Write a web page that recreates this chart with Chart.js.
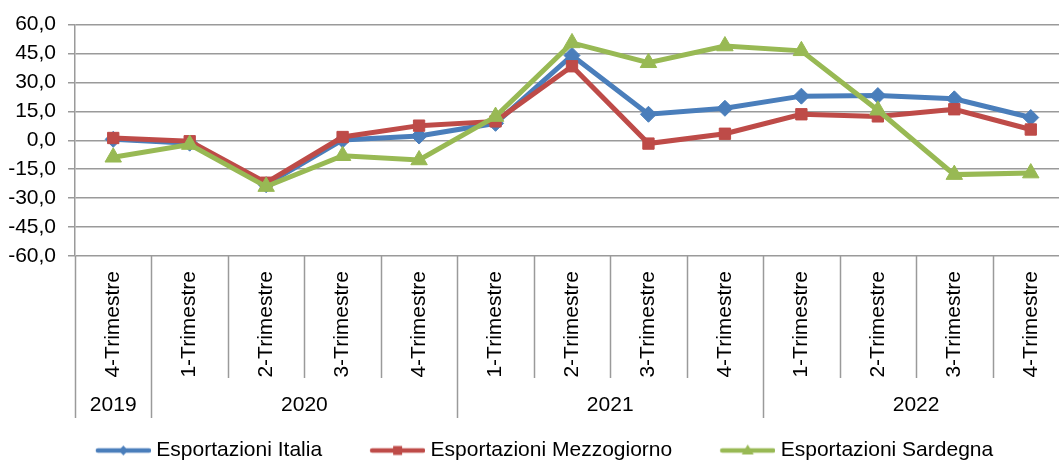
<!DOCTYPE html>
<html>
<head>
<meta charset="utf-8">
<script src="https://cdn.jsdelivr.net/npm/chart.js@4.4.1/dist/chart.umd.min.js"></script>
<style>
  html, body { margin: 0; padding: 0; overflow: hidden; background: #fff; width: 1059px; height: 463px; }
  #wrap { position: absolute; left: 0; top: 0; width: 1080px; height: 471px; }
</style>
</head>
<body>
<div id="wrap"><canvas id="c" width="1080" height="471" style="width:1080px;height:471px"></canvas></div>
<script>
const categories = ['4-Trimestre','1-Trimestre','2-Trimestre','3-Trimestre','4-Trimestre','1-Trimestre','2-Trimestre','3-Trimestre','4-Trimestre','1-Trimestre','2-Trimestre','3-Trimestre','4-Trimestre'];
const years = ['2019','2020','2021','2022'];
const yearSpans = [1, 4, 4, 4];
const seriesNames = ['Esportazioni Italia','Esportazioni Mezzogiorno','Esportazioni Sardegna'];
const italia      = [0.5, -1.5, -23.0, 0.2, 2.2, 8.8, 44.0, 13.5, 16.6, 22.9, 23.2, 21.5, 11.8];
const mezzogiorno = [1.2, -0.5, -22.0, 1.7, 7.6, 9.8, 38.4, -1.7, 3.4, 13.5, 12.4, 16.1, 5.6];
const sardegna    = [-8.8, -2.2, -24.0, -8.0, -10.2, 12.3, 50.5, 40.2, 48.9, 46.4, 15.6, -17.8, -17.0];
const yMin = -60, yMax = 60, yStep = 15;

const FONT = "'Liberation Sans', Arial, sans-serif";
const GRID = '#9a9a9a';
const colors = ['#4A7EBB', '#BE4B48', '#98B954'];
const styles = ['rectRot', 'rect', 'triangle'];
const radii = [8, 8, 9.5];

function legendImage(color, style) {
  const c = document.createElement('canvas');
  c.width = 80; c.height = 16;
  const g = c.getContext('2d');
  g.strokeStyle = color; g.lineWidth = 4.5; g.lineCap = 'round';
  g.beginPath(); g.moveTo(27, 8); g.lineTo(78, 8); g.stroke();
  g.fillStyle = color;
  const cx = 52.5, cy = 8;
  g.beginPath();
  if (style === 'rectRot') { g.moveTo(cx, cy-5); g.lineTo(cx+4.5, cy); g.lineTo(cx, cy+5); g.lineTo(cx-4.5, cy); }
  else if (style === 'rect') { g.rect(cx-4.5, cy-4.5, 9, 9); }
  else { g.moveTo(cx, cy-6); g.lineTo(cx+6, cy+4); g.lineTo(cx-6, cy+4); }
  g.closePath(); g.fill();
  return c;
}

const seriesData = [italia, mezzogiorno, sardegna];
const datasets = seriesData.map((d, i) => ({
  label: seriesNames[i],
  data: d,
  borderColor: colors[i],
  backgroundColor: colors[i],
  borderWidth: 5,
  pointStyle: styles[i],
  pointRadius: radii[i],
  pointHoverRadius: radii[i],
  pointBackgroundColor: colors[i],
  pointBorderColor: colors[i],
  pointBorderWidth: 1,
  tension: 0,
  order: 3 - i
}));

const legendImgs = colors.map((c, i) => legendImage(c, styles[i]));

const yearPlugin = {
  id: 'yearGroups',
  afterDraw(chart) {
    const x = chart.scales.x, ca = chart.chartArea, ctx = chart.ctx;
    const step = x.getPixelForValue(1) - x.getPixelForValue(0);
    const bounds = [0];
    yearSpans.forEach(s => bounds.push(bounds[bounds.length-1] + s));
    ctx.save();
    ctx.strokeStyle = GRID; ctx.lineWidth = 1.5;
    for (let i = 0; i <= categories.length; i++) {
      const bx = Math.round(x.getPixelForValue(i) - step/2) + 0.5;
      const long = bounds.includes(i);
      ctx.beginPath();
      ctx.moveTo(bx, ca.bottom);
      ctx.lineTo(bx, ca.bottom + (long ? 162 : 122));
      ctx.stroke();
    }
    ctx.fillStyle = '#000';
    ctx.font = "21px " + FONT;
    ctx.textAlign = 'center'; ctx.textBaseline = 'middle';
    years.forEach((yr, k) => {
      const a = x.getPixelForValue(bounds[k]) - step/2;
      const b = x.getPixelForValue(bounds[k+1]) - step/2;
      ctx.fillText(yr, (a+b)/2, ca.bottom + 149);
    });
    ctx.restore();
  }
};

new Chart(document.getElementById('c'), {
  type: 'line',
  data: { labels: categories, datasets },
  plugins: [yearPlugin],
  options: {
    responsive: false,
    animation: false,
    devicePixelRatio: 1,
    layout: { padding: { top: 20, right: 11, left: 0, bottom: 0 } },
    plugins: {
      tooltip: { enabled: false },
      legend: {
        position: 'bottom',
        labels: {
          usePointStyle: true,
          pointStyleWidth: 70,
          padding: 28,
          color: '#000',
          font: { family: FONT, size: 21 },
          generateLabels(chart) {
            return chart.data.datasets.map((ds, i) => ({
              text: ds.label, fillStyle: colors[i], strokeStyle: colors[i],
              pointStyle: legendImgs[i], datasetIndex: i, hidden: false, lineWidth: 0
            }));
          }
        }
      }
    },
    scales: {
      x: {
        type: 'category',
        offset: true,
        grid: { display: false },
        border: { display: false },
        ticks: { autoSkip: false, minRotation: 90, maxRotation: 90, padding: 7, color: '#000', font: { family: FONT, size: 21 } },
        afterFit(scale) { scale.height = 156; }
      },
      y: {
        min: yMin, max: yMax,
        grid: { color: GRID, lineWidth: 1.5, tickLength: 7, drawTicks: true },
        border: { color: GRID, width: 1.5 },
        ticks: { stepSize: yStep, padding: 12, color: '#000', font: { family: FONT, size: 21 },
          callback: v => v.toFixed(1).replace('.', ',') },
        afterFit(scale) { scale.width = 75; }
      }
    }
  }
});
</script>
</body>
</html>
